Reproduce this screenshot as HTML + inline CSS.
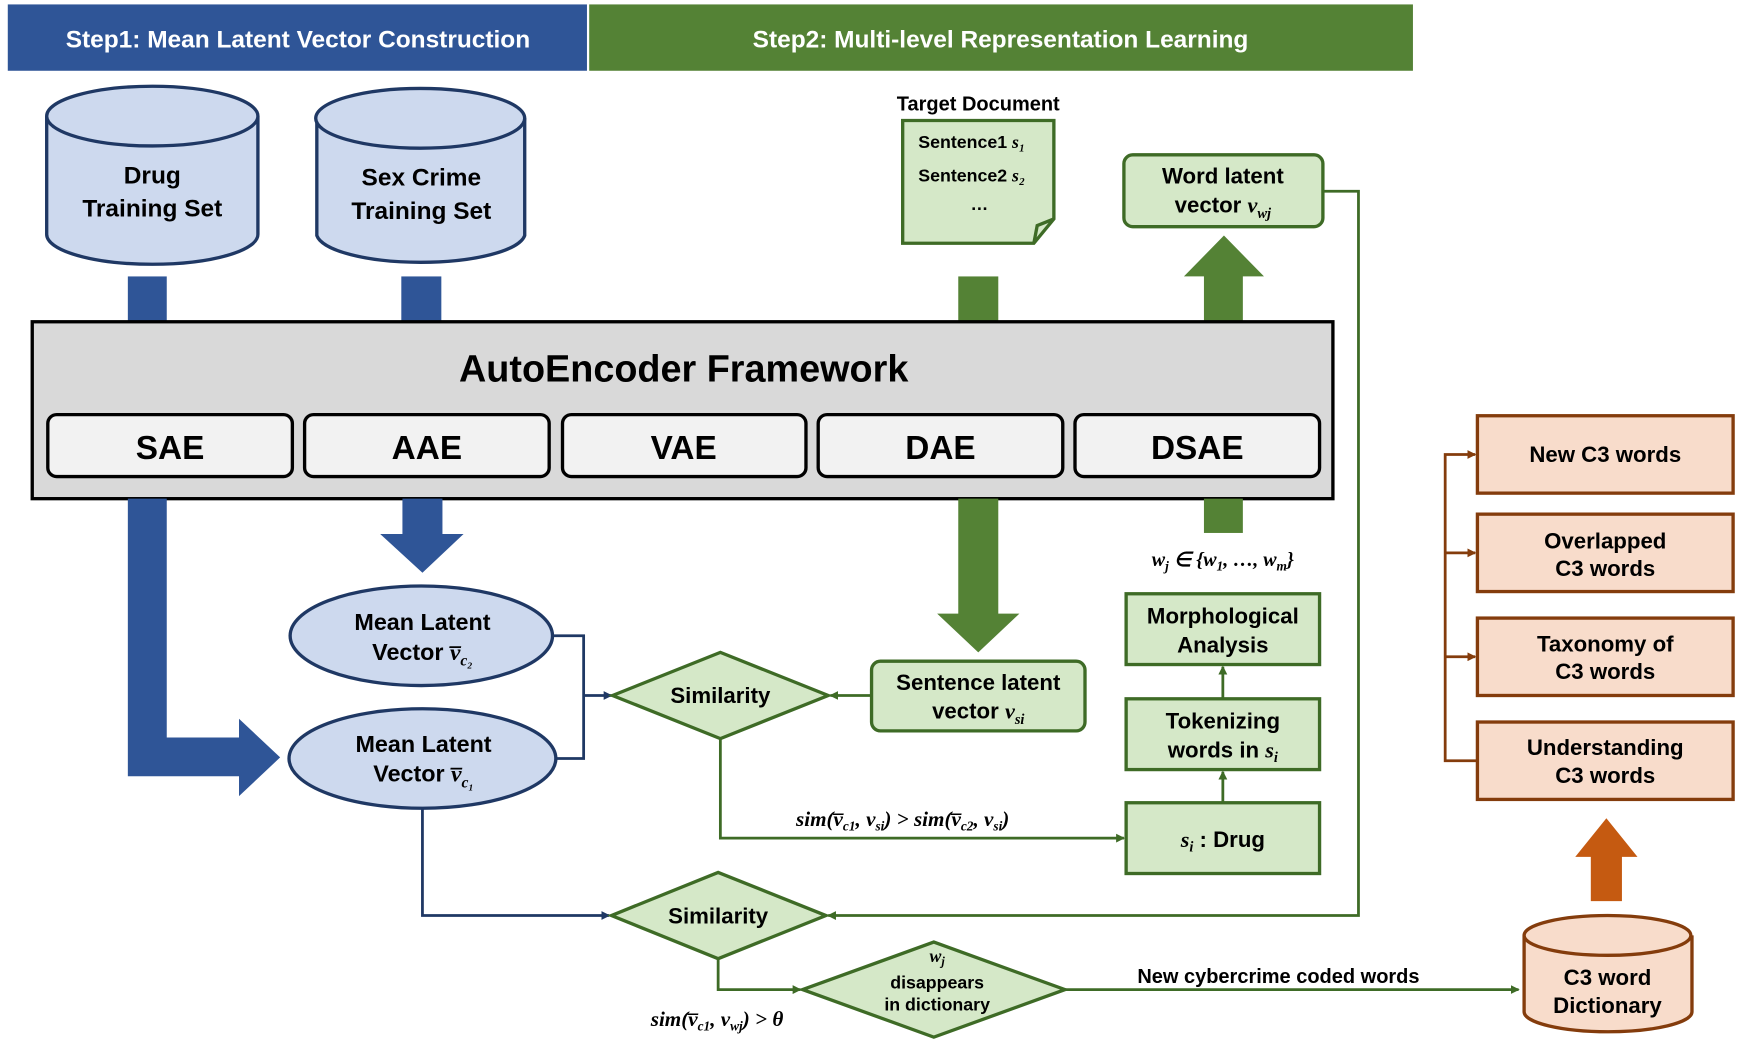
<!DOCTYPE html>
<html><head><meta charset="utf-8"><style>html,body{margin:0;padding:0;background:#fff}svg{display:block}</style></head>
<body>
<svg width="1742" height="1046" viewBox="0 0 1567 946" preserveAspectRatio="none" xmlns="http://www.w3.org/2000/svg" font-family="Liberation Sans, sans-serif" font-weight="bold">
<defs>
<marker id="ag" markerWidth="8" markerHeight="8" refX="7" refY="4" orient="auto" markerUnits="userSpaceOnUse"><path d="M0,0 L8,4 L0,8z" fill="#3e6b26"/></marker>
<marker id="ab" markerWidth="8" markerHeight="8" refX="7" refY="4" orient="auto" markerUnits="userSpaceOnUse"><path d="M0,0 L8,4 L0,8z" fill="#1f3864"/></marker>
<marker id="ao" markerWidth="8" markerHeight="8" refX="7" refY="4" orient="auto" markerUnits="userSpaceOnUse"><path d="M0,0 L8,4 L0,8z" fill="#843c0c"/></marker>
</defs>
<rect x="7" y="4" width="521" height="60" fill="#2f5597"/>
<text x="268" y="43" fill="#fff" font-size="22" text-anchor="middle">Step1: Mean Latent Vector Construction</text>
<rect x="530" y="4" width="741" height="60" fill="#548235"/>
<text x="900" y="43" fill="#fff" font-size="22" text-anchor="middle">Step2: Multi-level Representation Learning</text>
<g fill="#cdd9ee" stroke="#1f3864" stroke-width="3">
<path d="M42,105 L42,212 A95,27 0 0 0 232,212 L232,105"/>
<ellipse cx="137" cy="105" rx="95" ry="27"/>
<path d="M285,107 L285,213 A94,27 0 0 0 472,213 L472,107"/>
<ellipse cx="378" cy="107" rx="94" ry="27"/>
</g>
<g font-size="22" text-anchor="middle" fill="#000">
<text x="137" y="166">Drug</text><text x="137" y="196">Training Set</text>
<text x="379" y="168">Sex Crime</text><text x="379" y="198">Training Set</text>
</g>
<rect x="115" y="250" width="35" height="41" fill="#2f5597"/>
<rect x="361" y="250" width="36" height="41" fill="#2f5597"/>
<rect x="862" y="250" width="36" height="41" fill="#548235"/>
<path d="M1083,291 L1083,250 L1065,250 L1101,213 L1137,250 L1118,250 L1118,291z" fill="#548235"/>
<rect x="29" y="291" width="1170" height="160" fill="#d9d9d9" stroke="#000" stroke-width="3"/>
<text x="615" y="345" font-size="34" text-anchor="middle">AutoEncoder Framework</text>
<g fill="#f2f2f2" stroke="#000" stroke-width="3">
<rect x="43" y="375" width="220" height="56" rx="8"/>
<rect x="274" y="375" width="220" height="56" rx="8"/>
<rect x="506" y="375" width="219" height="56" rx="8"/>
<rect x="736" y="375" width="220" height="56" rx="8"/>
<rect x="967" y="375" width="220" height="56" rx="8"/>
</g>
<g font-size="30" text-anchor="middle">
<text x="153" y="415">SAE</text><text x="384" y="415">AAE</text><text x="615" y="415">VAE</text><text x="846" y="415">DAE</text><text x="1077" y="415">DSAE</text>
</g>
<path d="M115,451 L150,451 L150,667 L215,667 L215,650 L252,685 L215,720 L215,702 L115,702z" fill="#2f5597"/>
<path d="M362,451 L398,451 L398,483 L417,483 L380,518 L342,483 L362,483z" fill="#2f5597"/>
<path d="M862,451 L898,451 L898,555 L917,555 L880,590 L843,555 L862,555z" fill="#548235"/>
<rect x="1083" y="451" width="35" height="31" fill="#548235"/>
<g fill="#cdd9ee" stroke="#1f3864" stroke-width="3">
<ellipse cx="379" cy="575" rx="118" ry="45"/>
<ellipse cx="380" cy="686" rx="120" ry="45"/>
</g>
<g font-size="21" text-anchor="middle">
<text x="380" y="570">Mean Latent</text>
<text x="380" y="597">Vector <tspan font-family="Liberation Serif, serif" font-style="italic">v̅</tspan><tspan font-family="Liberation Serif, serif" font-style="italic" font-size="14" dy="5">c₂</tspan></text>
<text x="381" y="680">Mean Latent</text>
<text x="381" y="707">Vector <tspan font-family="Liberation Serif, serif" font-style="italic">v̅</tspan><tspan font-family="Liberation Serif, serif" font-style="italic" font-size="14" dy="5">c₁</tspan></text>
</g>
<g stroke="#1f3864" stroke-width="2.5" fill="none">
<polyline points="497,575 525,575 525,686 500,686"/>
<line x1="525" y1="629" x2="550" y2="629" marker-end="url(#ab)"/>
<polyline points="380,731 380,828 548,828" marker-end="url(#ab)"/>
</g>
<g fill="#d5e8c8" stroke="#3e6b26" stroke-width="3">
<polygon points="551,629 648,590 745,629 648,668"/>
<polygon points="550,828 646,789 743,828 646,867"/>
<polygon points="722,895 840,852 958,895 840,938"/>
<rect x="784" y="598" width="192" height="63" rx="8"/>
<rect x="1013" y="726" width="174" height="64"/>
<rect x="1013" y="632" width="174" height="64"/>
<rect x="1013" y="537" width="174" height="64"/>
<rect x="1011" y="140" width="179" height="65" rx="8"/>
<path d="M812,109 L948,109 L948,198 L930,220 L812,220z"/>
<path d="M930,220 L933,204 L948,198" fill="none"/>
</g>
<g stroke="#3e6b26" stroke-width="2.5" fill="none">
<line x1="784" y1="629" x2="747" y2="629" marker-end="url(#ag)"/>
<polyline points="648,668 648,758 1011,758" marker-end="url(#ag)"/>
<line x1="1100" y1="726" x2="1100" y2="698" marker-end="url(#ag)"/>
<line x1="1100" y1="632" x2="1100" y2="603" marker-end="url(#ag)"/>
<polyline points="1190,173 1222,173 1222,828 745,828" marker-end="url(#ag)"/>
<polyline points="646,867 646,895 720,895" marker-end="url(#ag)"/>
<line x1="958" y1="895" x2="1366" y2="895" marker-end="url(#ag)"/>
</g>
<g font-size="20" text-anchor="middle">
<text x="648" y="636">Similarity</text>
<text x="646" y="835">Similarity</text>
<text x="880" y="624">Sentence latent</text>
<text x="880" y="650">vector <tspan font-family="Liberation Serif, serif" font-style="italic">v</tspan><tspan font-family="Liberation Serif, serif" font-style="italic" font-size="13" dy="5">si</tspan></text>
<text x="1100" y="766"><tspan font-family="Liberation Serif, serif" font-style="italic">s</tspan><tspan font-family="Liberation Serif, serif" font-style="italic" font-size="13" dy="4">i</tspan><tspan dy="-4"> : Drug</tspan></text>
<text x="1100" y="659">Tokenizing</text>
<text x="1100" y="685">words in <tspan font-family="Liberation Serif, serif" font-style="italic">s</tspan><tspan font-family="Liberation Serif, serif" font-style="italic" font-size="13" dy="4">i</tspan></text>
<text x="1100" y="564">Morphological</text>
<text x="1100" y="590">Analysis</text>
<text x="1100" y="166">Word latent</text>
<text x="1100" y="192">vector <tspan font-family="Liberation Serif, serif" font-style="italic">v</tspan><tspan font-family="Liberation Serif, serif" font-style="italic" font-size="13" dy="5">wj</tspan></text>
</g>
<g font-size="16" text-anchor="middle">
<text x="843" y="870" font-family="Liberation Serif, serif" font-style="italic">w<tspan font-size="11" dy="3">j</tspan></text>
<text x="843" y="894">disappears</text>
<text x="843" y="914">in dictionary</text>
</g>
<text x="880" y="100" font-size="18" text-anchor="middle">Target Document</text>
<g font-size="16">
<text x="826" y="134">Sentence1 <tspan font-family="Liberation Serif, serif" font-style="italic">s₁</tspan></text>
<text x="826" y="164">Sentence2 <tspan font-family="Liberation Serif, serif" font-style="italic">s₂</tspan></text>
<text x="873" y="190">…</text>
</g>
<g font-family="Liberation Serif, serif" font-style="italic" font-size="19" text-anchor="middle">
<text x="812" y="747">sim(v̅<tspan font-size="12" dy="4">c1</tspan><tspan dy="-4">, v</tspan><tspan font-size="12" dy="4">si</tspan><tspan dy="-4">) &gt; sim(v̅</tspan><tspan font-size="12" dy="4">c2</tspan><tspan dy="-4">, v</tspan><tspan font-size="12" dy="4">si</tspan><tspan dy="-4">)</tspan></text>
<text x="645" y="928">sim(v̅<tspan font-size="12" dy="4">c1</tspan><tspan dy="-4">, v</tspan><tspan font-size="12" dy="4">wj</tspan><tspan dy="-4">) &gt; θ</tspan></text>
<text x="1100" y="512" font-size="18">w<tspan font-size="12" dy="4">j</tspan><tspan dy="-4"> ∈ {w</tspan><tspan font-size="12" dy="4">1</tspan><tspan dy="-4">, …, w</tspan><tspan font-size="12" dy="4">m</tspan><tspan dy="-4">}</tspan></text>
</g>
<text x="1150" y="889" font-size="18" text-anchor="middle">New cybercrime coded words</text>
<g fill="#f8dccb" stroke="#843c0c" stroke-width="3">
<rect x="1329" y="376" width="230" height="70"/>
<rect x="1329" y="465" width="230" height="70"/>
<rect x="1329" y="559" width="230" height="70"/>
<rect x="1329" y="653" width="230" height="70"/>
<path d="M1371,846 L1371,915 A75,18 0 0 0 1522,915 L1522,846"/>
<ellipse cx="1446" cy="846" rx="75" ry="18"/>
</g>
<g stroke="#843c0c" stroke-width="2.5" fill="none">
<polyline points="1329,688 1300,688 1300,411 1327,411" marker-end="url(#ao)"/>
<line x1="1300" y1="500" x2="1327" y2="500" marker-end="url(#ao)"/>
<line x1="1300" y1="594" x2="1327" y2="594" marker-end="url(#ao)"/>
</g>
<path d="M1431,815 L1431,775 L1417,775 L1445,740 L1473,775 L1459,775 L1459,815z" fill="#c55a11"/>
<g font-size="20" text-anchor="middle">
<text x="1444" y="418">New C3 words</text>
<text x="1444" y="496">Overlapped</text><text x="1444" y="521">C3 words</text>
<text x="1444" y="589">Taxonomy of</text><text x="1444" y="614">C3 words</text>
<text x="1444" y="683">Understanding</text><text x="1444" y="708">C3 words</text>
<text x="1446" y="891">C3 word</text><text x="1446" y="916">Dictionary</text>
</g>
</svg>
</body></html>
